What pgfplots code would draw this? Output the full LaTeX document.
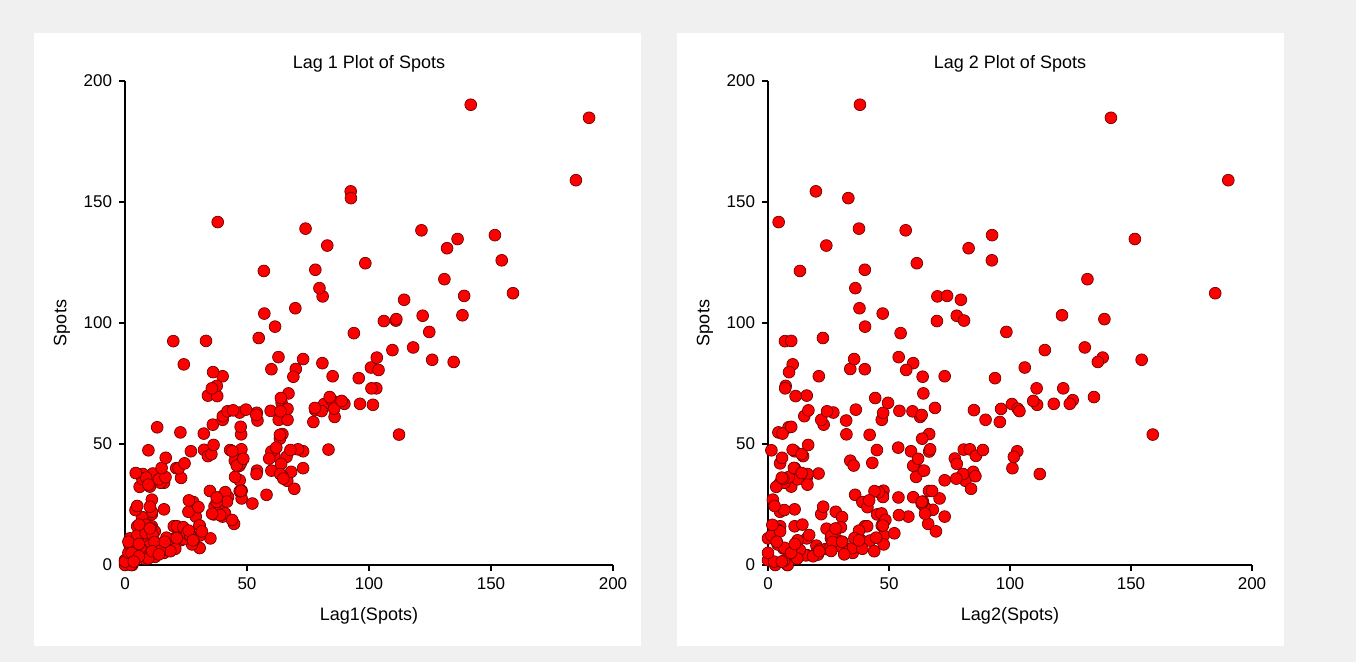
\documentclass[border=0pt]{standalone}
\usepackage{fontspec}
\setmainfont{Liberation Sans}
\usepackage{pgfplots}
\usepackage{pgfplotstable}
\pgfplotsset{compat=1.18}

\definecolor{bggray}{RGB}{240,240,240}
\definecolor{dotred}{RGB}{255,0,0}
\definecolor{dotedge}{RGB}{110,0,0}

% yearly sunspot numbers, with the values one and two years before
\pgfplotstableread{
year spots lag1 lag2
1701 11 5 nan
1702 16 11 5
1703 23 16 11
1704 36 23 16
1705 58 36 23
1706 29 58 36
1707 20 29 58
1708 10 20 29
1709 8 10 20
1710 3 8 10
1711 0 3 8
1712 0 0 3
1713 2 0 0
1714 11 2 0
1715 27 11 2
1716 47 27 11
1717 63 47 27
1718 60 63 47
1719 39 60 63
1720 28 39 60
1721 26 28 39
1722 22 26 28
1723 11 22 26
1724 21 11 22
1725 40 21 11
1726 78 40 21
1727 122 78 40
1728 103 122 78
1729 73 103 122
1730 47 73 103
1731 35 47 73
1732 11 35 47
1733 5 11 35
1734 16 5 11
1735 34 16 5
1736 70 34 16
1737 81 70 34
1738 111 81 70
1739 101 111 81
1740 73 101 111
1741 40 73 101
1742 20 40 73
1743 16 20 40
1744 5 16 20
1745 11 5 16
1746 22 11 5
1747 40 22 11
1748 60 40 22
1749 80.9 60 40
1750 83.4 80.9 60
1751 47.7 83.4 80.9
1752 47.8 47.7 83.4
1753 30.7 47.8 47.7
1754 12.2 30.7 47.8
1755 9.6 12.2 30.7
1756 10.2 9.6 12.2
1757 32.4 10.2 9.6
1758 47.6 32.4 10.2
1759 54.0 47.6 32.4
1760 62.9 54.0 47.6
1761 85.9 62.9 54.0
1762 61.2 85.9 62.9
1763 45.1 61.2 85.9
1764 36.4 45.1 61.2
1765 20.9 36.4 45.1
1766 11.4 20.9 36.4
1767 37.8 11.4 20.9
1768 69.8 37.8 11.4
1769 106.1 69.8 37.8
1770 100.8 106.1 69.8
1771 81.6 100.8 106.1
1772 66.5 81.6 100.8
1773 34.8 66.5 81.6
1774 30.6 34.8 66.5
1775 7.0 30.6 34.8
1776 19.8 7.0 30.6
1777 92.5 19.8 7.0
1778 154.4 92.5 19.8
1779 125.9 154.4 92.5
1780 84.8 125.9 154.4
1781 68.1 84.8 125.9
1782 38.5 68.1 84.8
1783 22.8 38.5 68.1
1784 10.2 22.8 38.5
1785 24.1 10.2 22.8
1786 82.9 24.1 10.2
1787 132.0 82.9 24.1
1788 130.9 132.0 82.9
1789 118.1 130.9 132.0
1790 89.9 118.1 130.9
1791 66.6 89.9 118.1
1792 60.0 66.6 89.9
1793 46.9 60.0 66.6
1794 41.0 46.9 60.0
1795 21.3 41.0 46.9
1796 16.0 21.3 41.0
1797 6.4 16.0 21.3
1798 4.1 6.4 16.0
1799 6.8 4.1 6.4
1800 14.5 6.8 4.1
1801 34.0 14.5 6.8
1802 45.0 34.0 14.5
1803 43.1 45.0 34.0
1804 47.5 43.1 45.0
1805 42.2 47.5 43.1
1806 28.1 42.2 47.5
1807 10.1 28.1 42.2
1808 8.1 10.1 28.1
1809 2.5 8.1 10.1
1810 0.0 2.5 8.1
1811 1.4 0.0 2.5
1812 5.0 1.4 0.0
1813 12.2 5.0 1.4
1814 13.9 12.2 5.0
1815 35.4 13.9 12.2
1816 45.8 35.4 13.9
1817 41.1 45.8 35.4
1818 30.1 41.1 45.8
1819 23.9 30.1 41.1
1820 15.6 23.9 30.1
1821 6.6 15.6 23.9
1822 4.0 6.6 15.6
1823 1.8 4.0 6.6
1824 8.5 1.8 4.0
1825 16.6 8.5 1.8
1826 36.3 16.6 8.5
1827 49.6 36.3 16.6
1828 64.2 49.6 36.3
1829 67.0 64.2 49.6
1830 70.9 67.0 64.2
1831 47.8 70.9 67.0
1832 27.5 47.8 70.9
1833 8.5 27.5 47.8
1834 13.2 8.5 27.5
1835 56.9 13.2 8.5
1836 121.5 56.9 13.2
1837 138.3 121.5 56.9
1838 103.2 138.3 121.5
1839 85.7 103.2 138.3
1840 64.6 85.7 103.2
1841 36.7 64.6 85.7
1842 24.2 36.7 64.6
1843 10.7 24.2 36.7
1844 15.0 10.7 24.2
1845 40.1 15.0 10.7
1846 61.5 40.1 15.0
1847 98.5 61.5 40.1
1848 124.7 98.5 61.5
1849 96.3 124.7 98.5
1850 66.6 96.3 124.7
1851 64.5 66.6 96.3
1852 54.1 64.5 66.6
1853 39.0 54.1 64.5
1854 20.6 39.0 54.1
1855 6.7 20.6 39.0
1856 4.3 6.7 20.6
1857 22.7 4.3 6.7
1858 54.8 22.7 4.3
1859 93.8 54.8 22.7
1860 95.8 93.8 54.8
1861 77.2 95.8 93.8
1862 59.1 77.2 95.8
1863 44.0 59.1 77.2
1864 47.0 44.0 59.1
1865 30.5 47.0 44.0
1866 16.3 30.5 47.0
1867 7.3 16.3 30.5
1868 37.6 7.3 16.3
1869 74.0 37.6 7.3
1870 139.0 74.0 37.6
1871 111.2 139.0 74.0
1872 101.6 111.2 139.0
1873 66.2 101.6 111.2
1874 44.7 66.2 101.6
1875 17.0 44.7 66.2
1876 11.3 17.0 44.7
1877 12.4 11.3 17.0
1878 3.4 12.4 11.3
1879 6.0 3.4 12.4
1880 32.3 6.0 3.4
1881 54.3 32.3 6.0
1882 59.7 54.3 32.3
1883 63.7 59.7 54.3
1884 63.5 63.7 59.7
1885 52.2 63.5 63.7
1886 25.4 52.2 63.5
1887 13.1 25.4 52.2
1888 6.8 13.1 25.4
1889 6.3 6.8 13.1
1890 7.1 6.3 6.8
1891 35.6 7.1 6.3
1892 73.0 35.6 7.1
1893 85.1 73.0 35.6
1894 78.0 85.1 73.0
1895 64.0 78.0 85.1
1896 41.8 64.0 78.0
1897 26.2 41.8 64.0
1898 26.7 26.2 41.8
1899 12.1 26.7 26.2
1900 9.5 12.1 26.7
1901 2.7 9.5 12.1
1902 5.0 2.7 9.5
1903 24.4 5.0 2.7
1904 42.0 24.4 5.0
1905 63.5 42.0 24.4
1906 53.8 63.5 42.0
1907 62.0 53.8 63.5
1908 48.5 62.0 53.8
1909 43.9 48.5 62.0
1910 18.6 43.9 48.5
1911 5.7 18.6 43.9
1912 3.6 5.7 18.6
1913 1.4 3.6 5.7
1914 9.6 1.4 3.6
1915 47.4 9.6 1.4
1916 57.1 47.4 9.6
1917 103.9 57.1 47.4
1918 80.6 103.9 57.1
1919 63.6 80.6 103.9
1920 37.6 63.6 80.6
1921 26.1 37.6 63.6
1922 14.2 26.1 37.6
1923 5.8 14.2 26.1
1924 16.7 5.8 14.2
1925 44.3 16.7 5.8
1926 63.9 44.3 16.7
1927 69.0 63.9 44.3
1928 77.8 69.0 63.9
1929 64.9 77.8 69.0
1930 35.7 64.9 77.8
1931 21.2 35.7 64.9
1932 11.1 21.2 35.7
1933 5.7 11.1 21.2
1934 8.7 5.7 11.1
1935 36.1 8.7 5.7
1936 79.7 36.1 8.7
1937 114.4 79.7 36.1
1938 109.6 114.4 79.7
1939 88.8 109.6 114.4
1940 67.8 88.8 109.6
1941 47.5 67.8 88.8
1942 30.6 47.5 67.8
1943 16.3 30.6 47.5
1944 9.6 16.3 30.6
1945 33.2 9.6 16.3
1946 92.6 33.2 9.6
1947 151.6 92.6 33.2
1948 136.3 151.6 92.6
1949 134.7 136.3 151.6
1950 83.9 134.7 136.3
1951 69.4 83.9 134.7
1952 31.5 69.4 83.9
1953 13.9 31.5 69.4
1954 4.4 13.9 31.5
1955 38.0 4.4 13.9
1956 141.7 38.0 4.4
1957 190.2 141.7 38.0
1958 184.8 190.2 141.7
1959 159.0 184.8 190.2
1960 112.3 159.0 184.8
1961 53.9 112.3 159.0
1962 37.6 53.9 112.3
1963 27.9 37.6 53.9
1964 10.2 27.9 37.6
1965 15.1 10.2 27.9
}\sunspots

\pgfplotsset{
  lagplot/.style={
    scale only axis,
    height=242bp,
    xmin=0, xmax=200, ymin=0, ymax=200,
    axis lines=left,
    axis line style={-, black, line width=0.6bp},
    xtick={0,50,...,200}, ytick={0,50,...,200},
    tick align=outside,
    major tick length=3bp,
    tick style={black, line width=0.6bp},
    clip=false,
    /pgf/number format/assume math mode=true,
    tick label style={font=\fontsize{8.5bp}{10bp}\selectfont},
    label style={font=\fontsize{9bp}{10bp}\selectfont},
    title style={font=\fontsize{9bp}{10bp}\selectfont,
      at={(0.5,1)}, anchor=base, yshift=0.5bp},
    xlabel style={at={(0.5,0)}, anchor=base, yshift=-27.5bp},
    ylabel style={at={(0,0.5)}, anchor=center, yshift=31.5bp},
  },
  spotmarks/.style={only marks, mark=*, mark size=2.95bp,
    mark options={fill=dotred, draw=dotedge, line width=0.35bp}},
}

\begin{document}
\begin{tikzpicture}
\fill[bggray] (0,0) rectangle (678bp,331bp);
\fill[white] (17bp,8bp) rectangle (320.5bp,314.5bp);
\fill[white] (338.5bp,8bp) rectangle (642bp,314.5bp);

\begin{axis}[lagplot, width=244bp,
  at={(62.5bp,48.5bp)}, anchor=south west,
  title={Lag 1 Plot of Spots},
  xlabel={Lag1(Spots)}, ylabel={Spots}]
\addplot[spotmarks] table[x=lag1, y=spots] {\sunspots};
\end{axis}

\begin{axis}[lagplot, width=242bp,
  at={(384bp,48.5bp)}, anchor=south west,
  title={Lag 2 Plot of Spots},
  xlabel={Lag2(Spots)}, ylabel={Spots}]
\addplot[spotmarks] table[x=lag2, y=spots] {\sunspots};
\end{axis}
\end{tikzpicture}
\end{document}
